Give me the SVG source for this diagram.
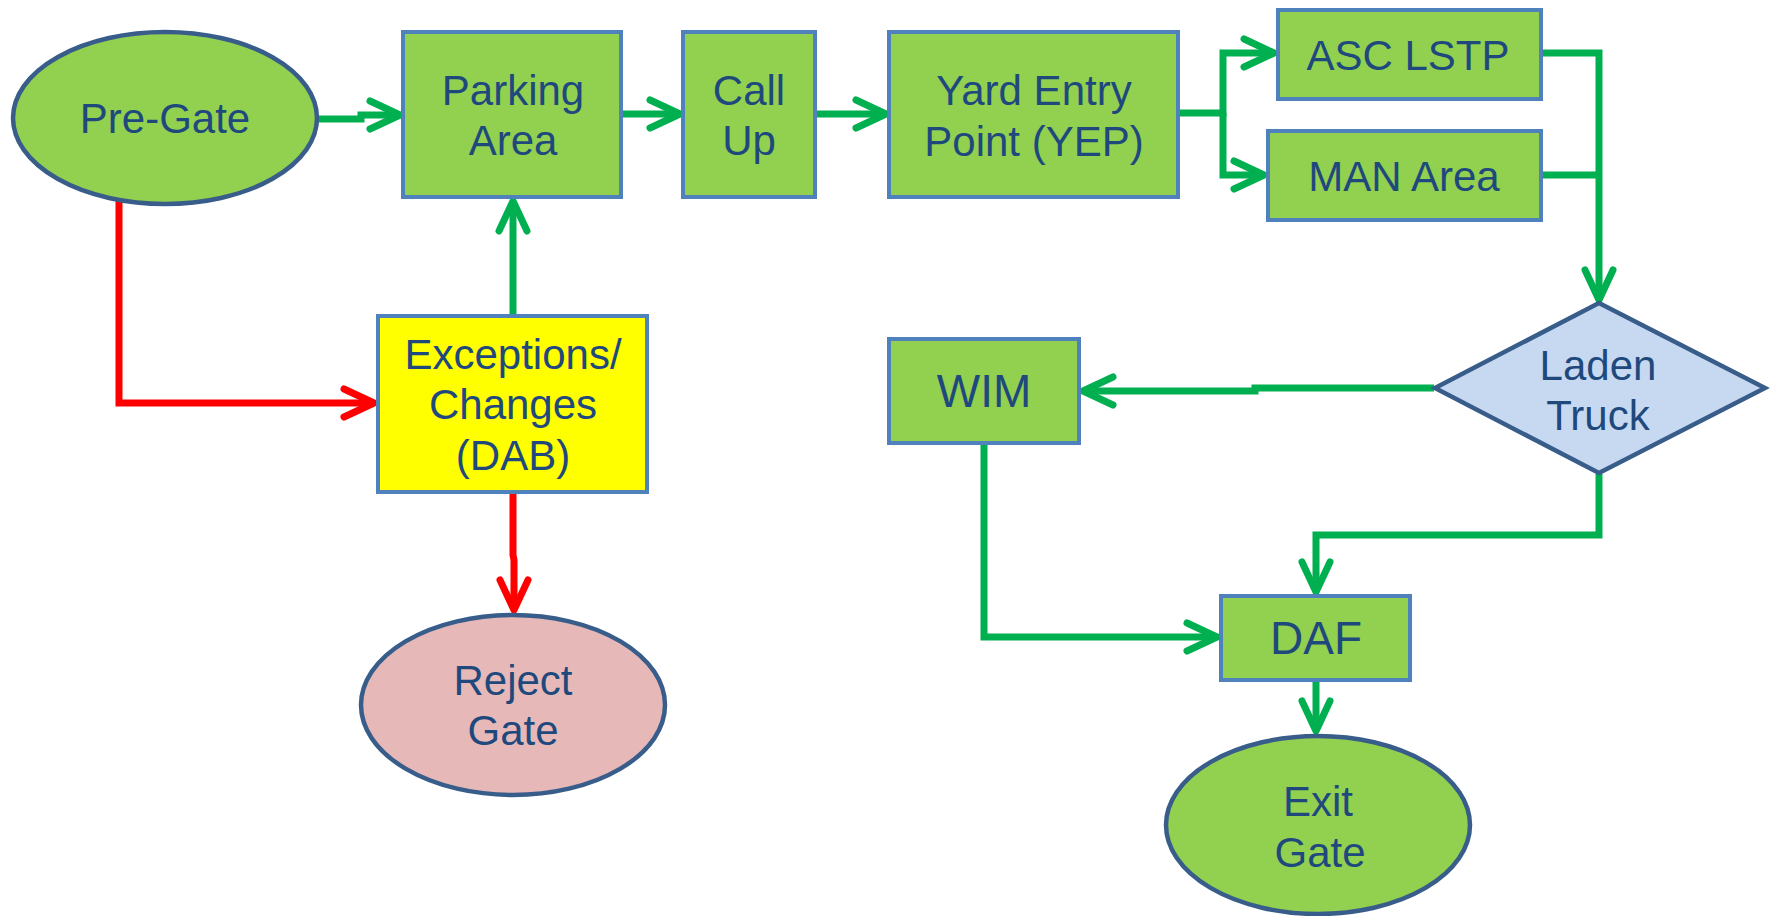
<svg xmlns="http://www.w3.org/2000/svg" width="1776" height="916" viewBox="0 0 1776 916">
  <style>
    .box { fill: #92D050; stroke: #4F81BD; stroke-width: 4; }
    .yellow { fill: #FFFF00; stroke: #4F81BD; stroke-width: 4; }
    .oval { fill: #92D050; stroke: #385D8A; stroke-width: 4.5; }
    .reject { fill: #E6B9B8; stroke: #385D8A; stroke-width: 4.5; }
    .decision { fill: #C6D9F1; stroke: #385D8A; stroke-width: 4.5; stroke-linejoin: miter; }
    .label { font-family: "Liberation Sans", Arial, sans-serif; font-size: 42px; fill: #1F497D; text-anchor: middle; }
    .big { font-size: 46px; }
    .go { fill: none; stroke: #00B050; stroke-width: 7; }
    .stop { fill: none; stroke: #FF0000; stroke-width: 7; }
  </style>
  <defs>
    <marker id="arrow-green" markerUnits="userSpaceOnUse" orient="auto" refX="0" refY="0" markerWidth="40" markerHeight="40" overflow="visible">
      <path d="M-30,-14 L0,0 L-30,14" fill="none" stroke="#00B050" stroke-width="7" stroke-linecap="round" stroke-linejoin="round"/>
    </marker>
    <marker id="arrow-red" markerUnits="userSpaceOnUse" orient="auto" refX="0" refY="0" markerWidth="40" markerHeight="40" overflow="visible">
      <path d="M-30,-14 L0,0 L-30,14" fill="none" stroke="#FF0000" stroke-width="7" stroke-linecap="round" stroke-linejoin="round"/>
    </marker>
  </defs>

  <rect width="1776" height="916" fill="#FFFFFF"/>

  <!-- connectors -->
  <g id="connectors">
    <path class="go" d="M318,119 H361 V115 H400" marker-end="url(#arrow-green)"/>
    <path class="go" d="M622,114 H680" marker-end="url(#arrow-green)"/>
    <path class="go" d="M816,114 H886" marker-end="url(#arrow-green)"/>
    <path class="go" d="M1180,113 H1223 V53 H1274" marker-end="url(#arrow-green)"/>
    <path class="go" d="M1223,113 V175 H1264" marker-end="url(#arrow-green)"/>
    <path class="go" d="M1542,53 H1599 V300" marker-end="url(#arrow-green)"/>
    <path class="go" d="M1542,175 H1599"/>
    <path class="go" d="M1434,388 H1255 V391 H1083" marker-end="url(#arrow-green)"/>
    <path class="go" d="M1599,474 V535 H1316 V592" marker-end="url(#arrow-green)"/>
    <path class="go" d="M984,444 V637 H1217" marker-end="url(#arrow-green)"/>
    <path class="go" d="M1316,681 V731" marker-end="url(#arrow-green)"/>
    <path class="go" d="M513,314 V201" marker-end="url(#arrow-green)"/>
    <path class="stop" d="M119,198 V403 H374" marker-end="url(#arrow-red)"/>
    <path class="stop" d="M513,493 V555 L514,560 V610" marker-end="url(#arrow-red)"/>
  </g>

  <g id="pre-gate">
    <ellipse class="oval" cx="165" cy="118" rx="152" ry="86"/>
    <text class="label" x="165" y="133">Pre-Gate</text>
  </g>

  <g id="parking-area">
    <rect class="box" x="403" y="32" width="218" height="165"/>
    <text class="label" x="513" y="105">Parking</text>
    <text class="label" x="513" y="155">Area</text>
  </g>

  <g id="call-up">
    <rect class="box" x="683" y="32" width="132" height="165"/>
    <text class="label" x="749" y="105">Call</text>
    <text class="label" x="749" y="155">Up</text>
  </g>

  <g id="yard-entry-point">
    <rect class="box" x="889" y="32" width="289" height="165"/>
    <text class="label" x="1034" y="105">Yard Entry</text>
    <text class="label" x="1034" y="156">Point (YEP)</text>
  </g>

  <g id="asc-lstp">
    <rect class="box" x="1278" y="10" width="263" height="89"/>
    <text class="label" x="1408" y="70">ASC LSTP</text>
  </g>

  <g id="man-area">
    <rect class="box" x="1268" y="131" width="273" height="89"/>
    <text class="label" x="1404" y="191">MAN Area</text>
  </g>

  <g id="laden-truck">
    <polygon class="decision" points="1599,303 1765,388 1599,473 1435,388"/>
    <text class="label" x="1598" y="380">Laden</text>
    <text class="label" x="1598" y="430">Truck</text>
  </g>

  <g id="wim">
    <rect class="box" x="889" y="339" width="190" height="104"/>
    <text class="label big" x="984" y="407">WIM</text>
  </g>

  <g id="exceptions">
    <rect class="yellow" x="378" y="316" width="269" height="176"/>
    <text class="label" x="513" y="369">Exceptions/</text>
    <text class="label" x="513" y="419">Changes</text>
    <text class="label" x="513" y="470">(DAB)</text>
  </g>

  <g id="reject-gate">
    <ellipse class="reject" cx="513" cy="705" rx="152" ry="90"/>
    <text class="label" x="513" y="695">Reject</text>
    <text class="label" x="513" y="745">Gate</text>
  </g>

  <g id="daf">
    <rect class="box" x="1221" y="596" width="189" height="84"/>
    <text class="label big" x="1316" y="654">DAF</text>
  </g>

  <g id="exit-gate">
    <ellipse class="oval" cx="1318" cy="825" rx="152" ry="89"/>
    <text class="label" x="1318" y="816">Exit</text>
    <text class="label" x="1320" y="867">Gate</text>
  </g>
</svg>
